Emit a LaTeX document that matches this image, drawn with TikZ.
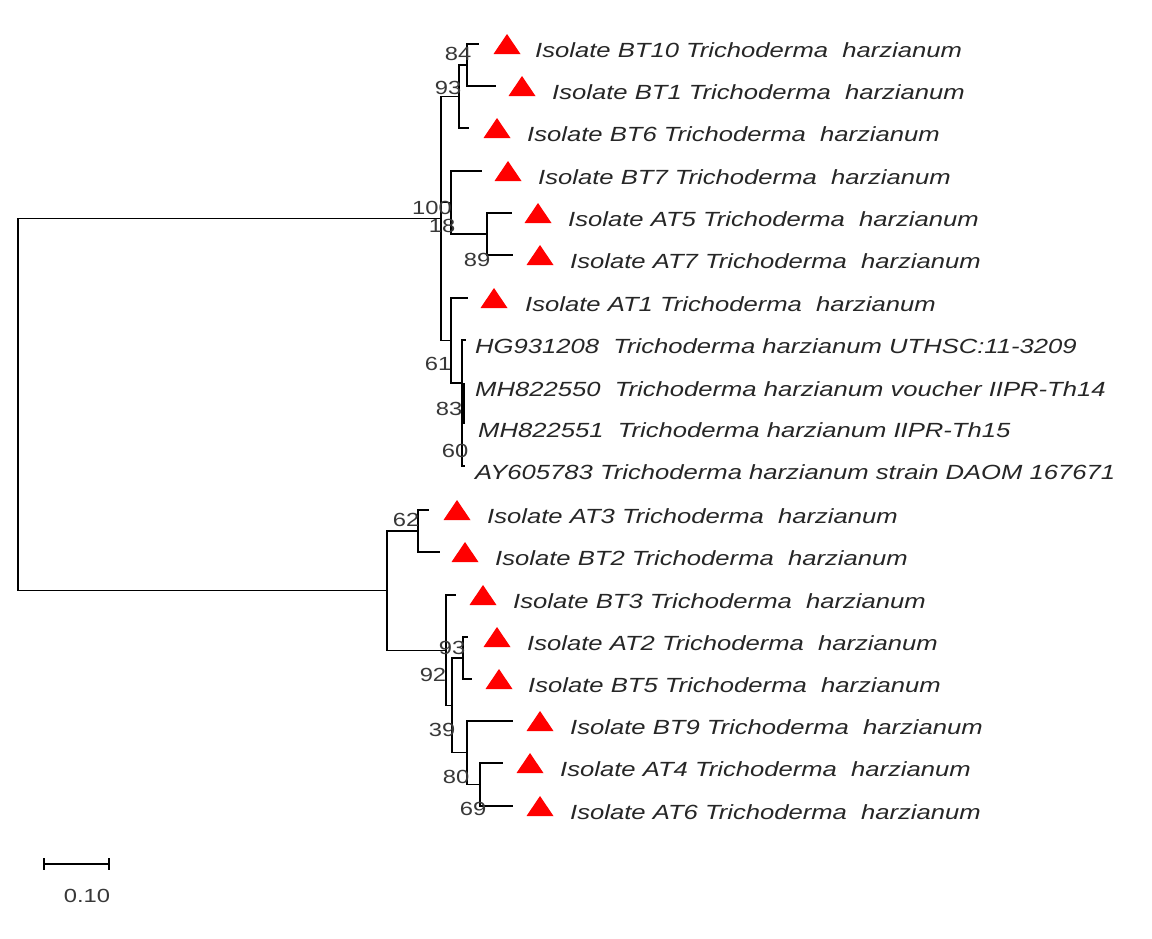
\documentclass[tikz,border=0pt]{standalone}
\usepackage{fontspec}
\newfontfamily\leaffont{Liberation Sans}[FakeStretch=1.25]
\tikzset{
  br/.style={line width=1.3pt, draw=black},
  leaf/.style={anchor=base west, inner sep=0pt, font=\leaffont\itshape\fontsize{20.5}{24}\selectfont, text=black!85},
  boot/.style={inner sep=0pt, font=\leaffont\fontsize{19}{22}\selectfont, text=black!78},
  tri/.pic={\fill[red] (-13.5,10) -- (0,-10) -- (13.5,10) -- cycle;}
}
\begin{document}
\begin{tikzpicture}[x=1pt,y=-1pt]
\useasboundingbox (0,0) rectangle (1152,938);
\fill[white] (0,0) rectangle (1152,938);
% internal nodes
\coordinate (R) at (18,400);
\coordinate (A) at (441,218.5);
\coordinate (C1) at (459,96.5);
\coordinate (N84) at (467,65);
\coordinate (B) at (451,202.5);
\coordinate (N89) at (487,234);
\coordinate (D) at (451,340.5);
\coordinate (N61) at (462,383);
\coordinate (L) at (387,590.6);
\coordinate (N62) at (418,531);
\coordinate (X) at (446,650.2);
\coordinate (Y) at (452,705.4);
\coordinate (N93) at (463,658);
\coordinate (Z) at (467,752.8);
\coordinate (W) at (480,784.5);
% leaf branch ends
\coordinate (e1) at (479,44);
\coordinate (e2) at (496,86);
\coordinate (e3) at (469,128);
\coordinate (e4) at (482,171);
\coordinate (e5) at (512,213);
\coordinate (e6) at (513,255);
\coordinate (e7) at (468,298);
\coordinate (e8) at (466,340);
\coordinate (e9) at (463.5,383);
\coordinate (e10) at (463.5,424);
\coordinate (e11) at (465,466);
\coordinate (e12) at (429,510);
\coordinate (e13) at (440,552);
\coordinate (e14) at (456,595);
\coordinate (e15) at (468,637);
\coordinate (e16) at (472,679);
\coordinate (e17) at (513,721);
\coordinate (e18) at (503,763);
\coordinate (e19) at (513,806);
% branches
\draw[br] (R) |- (A);
\draw[br] (R) |- (L);
\draw[br] (A) |- (C1);
\draw[br] (A) |- (B);
\draw[br] (A) |- (D);
\draw[br] (C1) |- (N84);
\draw[br] (C1) |- (e3);
\draw[br] (N84) |- (e1);
\draw[br] (N84) |- (e2);
\draw[br] (B) |- (e4);
\draw[br] (B) |- (N89);
\draw[br] (N89) |- (e5);
\draw[br] (N89) |- (e6);
\draw[br] (D) |- (e7);
\draw[br] (D) |- (N61);
\draw[br] (N61) |- (e8);
\draw[br] (N61) |- (e11);
\draw[line width=2.6pt] (e9) -- (e10);
\draw[br] (L) |- (N62);
\draw[br] (L) |- (X);
\draw[br] (N62) |- (e12);
\draw[br] (N62) |- (e13);
\draw[br] (X) |- (e14);
\draw[br] (X) |- (Y);
\draw[br] (Y) |- (N93);
\draw[br] (Y) |- (Z);
\draw[br] (N93) |- (e15);
\draw[br] (N93) |- (e16);
\draw[br] (Z) |- (e17);
\draw[br] (Z) |- (W);
\draw[br] (W) |- (e18);
\draw[br] (W) |- (e19);
% markers
\pic at (507,44) {tri};
\pic at (522,86) {tri};
\pic at (497,128) {tri};
\pic at (508,171) {tri};
\pic at (538,213) {tri};
\pic at (540,255) {tri};
\pic at (494,298) {tri};
\pic at (457,510) {tri};
\pic at (465,552) {tri};
\pic at (483,595) {tri};
\pic at (497,637) {tri};
\pic at (499,679) {tri};
\pic at (540,721) {tri};
\pic at (530,763) {tri};
\pic at (540,806) {tri};
% leaf labels
\node[leaf] (t1) at (535,57) {Isolate BT10 Trichoderma\ \ harzianum};
\node[leaf] (t2) at (552,99) {Isolate BT1 Trichoderma\ \ harzianum};
\node[leaf] (t3) at (527,141) {Isolate BT6 Trichoderma\ \ harzianum};
\node[leaf] (t4) at (538,184) {Isolate BT7 Trichoderma\ \ harzianum};
\node[leaf] (t5) at (568,226) {Isolate AT5 Trichoderma\ \ harzianum};
\node[leaf] (t6) at (570,268) {Isolate AT7 Trichoderma\ \ harzianum};
\node[leaf] (t7) at (525,311) {Isolate AT1 Trichoderma\ \ harzianum};
\node[leaf] (t8) at (475,353) {HG931208\ \ Trichoderma harzianum UTHSC:11-3209};
\node[leaf] (t9) at (475,396) {MH822550\ \ Trichoderma harzianum voucher IIPR-Th14};
\node[leaf] (t10) at (478,437) {MH822551\ \ Trichoderma harzianum IIPR-Th15};
\node[leaf] (t11) at (475,479) {AY605783 Trichoderma harzianum strain DAOM 167671};
\node[leaf] (t12) at (487,523) {Isolate AT3 Trichoderma\ \ harzianum};
\node[leaf] (t13) at (495,565) {Isolate BT2 Trichoderma\ \ harzianum};
\node[leaf] (t14) at (513,608) {Isolate BT3 Trichoderma\ \ harzianum};
\node[leaf] (t15) at (527,650) {Isolate AT2 Trichoderma\ \ harzianum};
\node[leaf] (t16) at (528,692) {Isolate BT5 Trichoderma\ \ harzianum};
\node[leaf] (t17) at (570,734) {Isolate BT9 Trichoderma\ \ harzianum};
\node[leaf] (t18) at (560,776) {Isolate AT4 Trichoderma\ \ harzianum};
\node[leaf] (t19) at (570,819) {Isolate AT6 Trichoderma\ \ harzianum};
% bootstrap values
\node[boot] (b1) at (458,54) {84};
\node[boot] (b2) at (448,88) {93};
\node[boot] (b3) at (432,208) {100};
\node[boot] (b4) at (442,226) {18};
\node[boot] (b5) at (477,260) {89};
\node[boot] (b6) at (438,364) {61};
\node[boot] (b7) at (449,409) {83};
\node[boot] (b8) at (455,451) {60};
\node[boot] (b9) at (406,520) {62};
\node[boot] (b10) at (452,648) {93};
\node[boot] (b11) at (433,675) {92};
\node[boot] (b12) at (442,730) {39};
\node[boot] (b13) at (456,777) {80};
\node[boot] (b14) at (473,809) {69};
% scale bar
\coordinate (s1) at (44,864);
\coordinate (s2) at (109,864);
\draw[br] (s1) -- (s2);
\draw[br] (44,858) -- (44,870);
\draw[br] (109,858) -- (109,870);
\node[boot] (sl) at (87,896) {0.10};
\end{tikzpicture}
\end{document}
